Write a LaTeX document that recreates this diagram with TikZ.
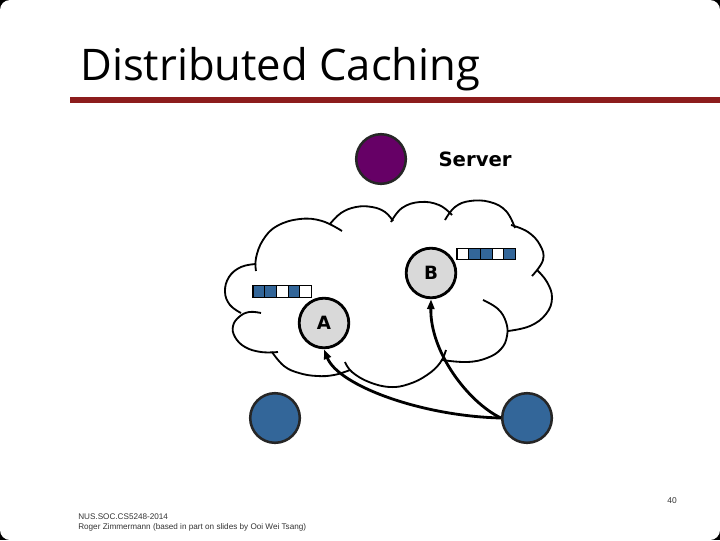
\documentclass[tikz,border=0pt]{standalone}
\usepackage{fontspec}
\usepackage{xcolor}
\usepackage{tikz}
\usetikzlibrary{
  arrows.meta, shapes, shapes.geometric,
  positioning, calc
}
\setmainfont{DejaVu Sans}
\newfontfamily\titlefont{Open Sans}
\newfontfamily\footfont{Liberation Sans}
\definecolor{C_SRV}{HTML}{660066}
\definecolor{C_CLI}{HTML}{336699}
\definecolor{C_BAR}{HTML}{8C1C1C}
\definecolor{C_PEER}{HTML}{D9D9D9}

\begin{document}
\begin{tikzpicture}[
  x=0.025cm, y=-0.025cm,
  node distance=0.6cm and 0.8cm,
  peer/.style={circle, draw, line width=2pt, fill=C_PEER, minimum size=1.24cm,
               inner sep=0pt, font=\bfseries\fontsize{13}{15}\selectfont},
  host/.style={circle, draw=black!85, line width=1.8pt, minimum size=1.24cm,
               inner sep=0pt},
  cell/.style={draw, line width=0.8pt, minimum width=0.292cm, minimum height=0.28cm,
               inner sep=0pt, outer sep=0pt},
  puff/.style={line width=1.3pt},
  fetch/.style={-{Triangle[length=7pt, width=5pt]}, line width=2pt},
]
%% Slide frame
\fill[black] (0,0) rectangle (720,540);
\fill[white, rounded corners=0.25cm] (0,0) rectangle (720,540);
\useasboundingbox (0,0) rectangle (720,540);

%% Title
\node[anchor=base west, inner sep=0pt, font=\titlefont\fontsize{31}{34}\selectfont]
      (title) at (80,80) {Distributed Caching};
\fill[C_BAR] (70,97) rectangle (720,103);

%% Server
\node[host, fill=C_SRV] (server) at (381,159) {};
\node[right=0.78cm of server, inner sep=0pt, font=\bfseries\fontsize{14}{16}\selectfont]
      (srvlabel) {Server};

%% Cloud
\draw[puff] plot[smooth, tension=0.7] coordinates {(256,271) (256,258) (263,240) (277,226) (300,219) (322,221) (342,231)};
\draw[puff] plot[smooth, tension=0.7] coordinates {(330,224) (341,213) (356,207) (372,207) (385,212) (393,221)};
\draw[puff] plot[smooth, tension=0.7] coordinates {(391,222) (402,208) (420,202) (439,205) (452,215)};
\draw[puff] plot[smooth, tension=0.7] coordinates {(445,220) (455,207) (470,201) (490,202) (506,211) (515,228)};
\draw[puff] plot[smooth, tension=0.7] coordinates {(511,225) (528,232) (540,245) (543,260) (532,276)};
\draw[puff] plot[smooth, tension=0.7] coordinates {(537,270) (547,282) (552,298) (546,314) (530,326) (508,331)};
\draw[puff] plot[smooth, tension=0.7] coordinates {(483,300) (498,309) (506,322) (507,336) (501,349) (487,358) (467,362) (442,360)};
\draw[puff] plot[smooth, tension=0.7] coordinates {(446,350) (440,363) (427,375) (409,384) (390,387) (369,382) (352,372) (345,362)};
\draw[puff] plot[smooth, tension=0.7] coordinates {(350,370) (334,375) (317,376) (299,373) (284,366) (272,352)};
\draw[puff] plot[smooth, tension=0.7] coordinates {(278,352) (261,352) (245,347) (235,337) (233,326) (239,317) (249,312) (261,313)};
\draw[puff] plot[smooth, tension=0.7] coordinates {(241,313) (230,305) (225,292) (229,277) (241,267) (256,264)};

%% Peers with their caches
\node[peer] (peerB) at (431,273) {B};
\node[peer] (peerA) at (324,323) {A};
\foreach \c [count=\i] in {C_CLI,C_CLI,white,C_CLI,white}
  \node[cell, fill=\c] (cacheA\i) at ({247.15+11.7*\i},291.5) {};
\foreach \c [count=\i] in {white,C_CLI,C_CLI,white,C_CLI}
  \node[cell, fill=\c] (cacheB\i) at ({451.15+11.7*\i},254) {};

%% Clients
\node[host, fill=C_CLI] (client1) at (275,418) {};
\node[host, fill=C_CLI] (client2) at (527,418) {};

%% Requests
\draw[fetch] (client2.west) .. controls (420,416) and (338,385) .. (peerA.south);
\draw[fetch] (client2.west) .. controls (468,402) and (430,352) .. (peerB.south);

%% Footer
\node[anchor=north west, align=left, inner sep=0pt, text=black!80,
      font=\footfont\fontsize{5.8}{6.8}\selectfont] (credit) at (78,514)
  {NUS.SOC.CS5248-2014\\Roger Zimmermann (based in part on slides by Ooi Wei Tsang)};
\node[inner sep=0pt, text=black!80, font=\footfont\fontsize{6}{7}\selectfont]
      (pageno) at (672,501) {40};

\end{tikzpicture}
\end{document}
